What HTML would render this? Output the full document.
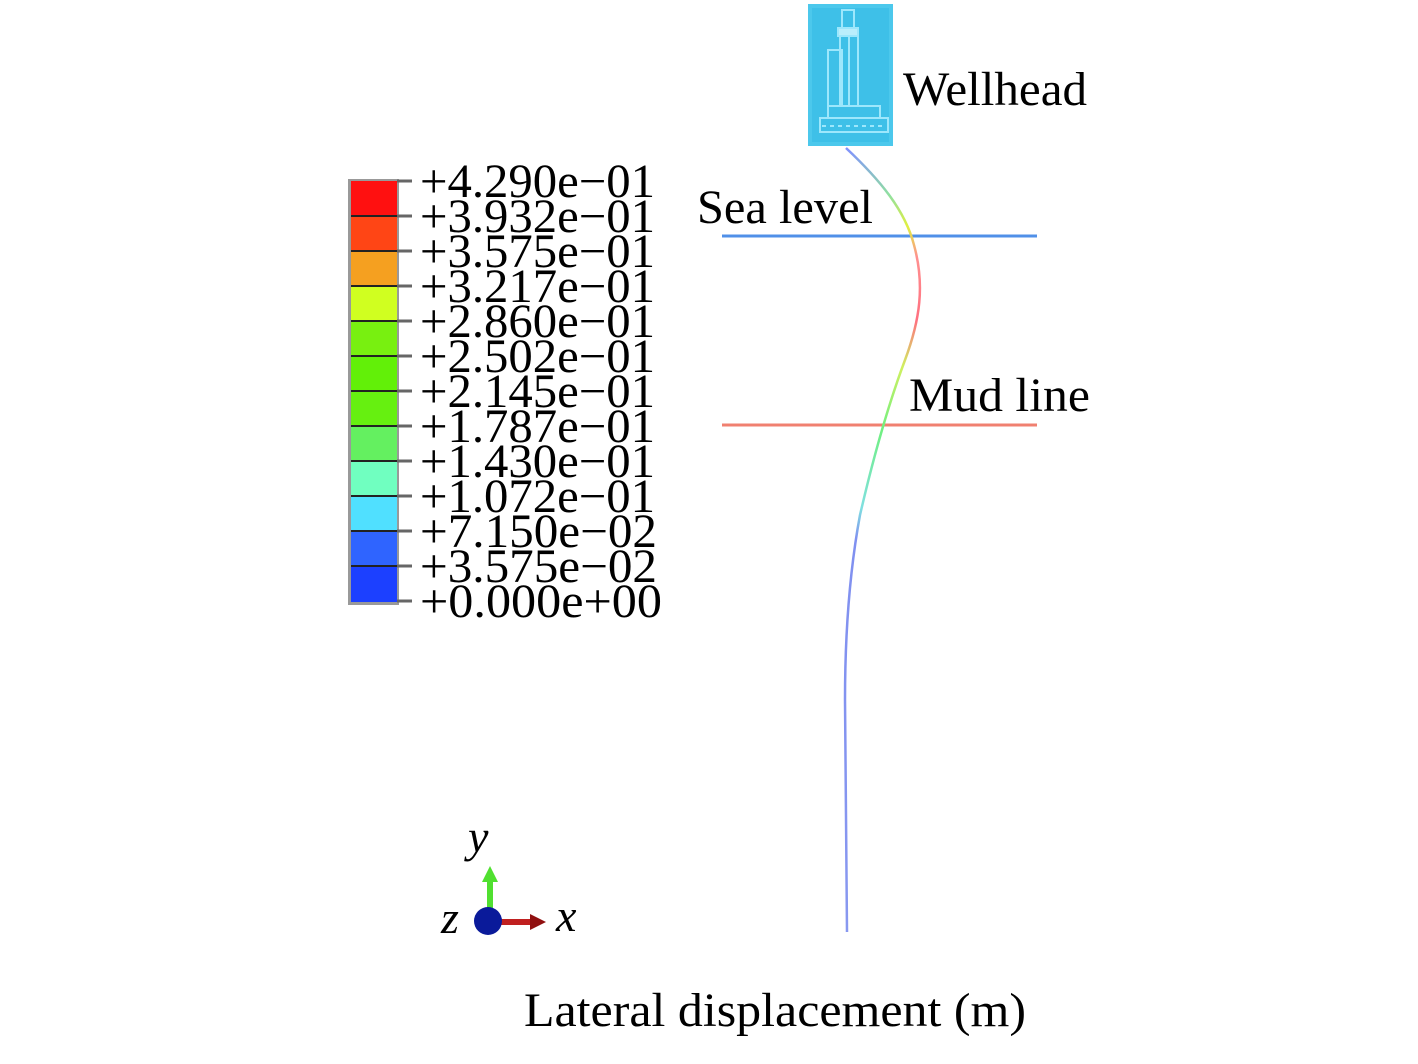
<!DOCTYPE html>
<html><head><meta charset="utf-8"><style>
html,body{margin:0;padding:0;background:#fff;}
svg{display:block;}
text{font-family:"Liberation Serif",serif;fill:#000;}
</style></head><body>
<svg width="1418" height="1064" viewBox="0 0 1418 1064" xmlns="http://www.w3.org/2000/svg">
<defs>
<linearGradient id="cg" x1="0" y1="148" x2="0" y2="930" gradientUnits="userSpaceOnUse">
<stop offset="0" stop-color="#8090ff"/>
<stop offset="0.06" stop-color="#90e0a0"/>
<stop offset="0.1" stop-color="#e0f040"/>
<stop offset="0.14" stop-color="#ff9090"/>
<stop offset="0.22" stop-color="#ff7080"/>
<stop offset="0.28" stop-color="#d0f060"/>
<stop offset="0.36" stop-color="#70f080"/>
<stop offset="0.46" stop-color="#80e0e0"/>
<stop offset="0.5" stop-color="#8090f0"/>
<stop offset="1" stop-color="#8898f0"/>
</linearGradient>
</defs>
<rect x="808" y="4" width="85" height="142" fill="#4cc8ec"/>
<rect x="812" y="8" width="77" height="134" fill="#3ec0e8"/>
<g stroke="#a8ecff" stroke-width="2" fill="none" opacity="0.9">
<rect x="842" y="10" width="12" height="18"/>
<rect x="838" y="28" width="20" height="8" fill="#c8f4ff"/>
<rect x="840" y="36" width="18" height="70"/>
<rect x="828" y="50" width="14" height="56"/>
<line x1="849" y1="36" x2="849" y2="106"/>
<rect x="828" y="106" width="52" height="12"/>
<rect x="820" y="118" width="68" height="14"/>
<line x1="822" y1="126" x2="886" y2="126" stroke-dasharray="4 4"/>
</g>
<text x="903" y="105" font-size="48" textLength="184" lengthAdjust="spacingAndGlyphs">Wellhead</text>
<line x1="722" y1="236" x2="1037" y2="236" stroke="#5090e8" stroke-width="3"/>
<line x1="722" y1="425" x2="1037" y2="425" stroke="#f08070" stroke-width="3"/>
<text x="697" y="223" font-size="48" textLength="176" lengthAdjust="spacingAndGlyphs">Sea level</text>
<text x="909" y="411" font-size="48" textLength="181" lengthAdjust="spacingAndGlyphs">Mud line</text>
<path d="M846,148 C880,180 905,210 914,245 C925,285 920,320 905,360 C890,400 875,450 860,515 C848,580 845,650 845,700 L847,932" fill="none" stroke="url(#cg)" stroke-width="2.5"/>
<rect x="348" y="179" width="51" height="426" fill="#999"/>
<rect x="351" y="181" width="46" height="35" fill="#ff1010"/>
<rect x="351" y="216" width="46" height="35" fill="#ff4515"/>
<rect x="351" y="251" width="46" height="35" fill="#f5a020"/>
<rect x="351" y="286" width="46" height="35" fill="#d0ff20"/>
<rect x="351" y="321" width="46" height="35" fill="#78f010"/>
<rect x="351" y="356" width="46" height="35" fill="#62f008"/>
<rect x="351" y="391" width="46" height="35" fill="#66f010"/>
<rect x="351" y="426" width="46" height="35" fill="#64f060"/>
<rect x="351" y="461" width="46" height="35" fill="#70ffc0"/>
<rect x="351" y="496" width="46" height="35" fill="#50e0ff"/>
<rect x="351" y="531" width="46" height="35" fill="#2f64ff"/>
<rect x="351" y="566" width="46" height="36" fill="#1c40ff"/>
<g stroke="#222" stroke-width="2">
<line x1="351" y1="216" x2="397" y2="216"/><line x1="351" y1="251" x2="397" y2="251"/>
<line x1="351" y1="286" x2="397" y2="286"/><line x1="351" y1="321" x2="397" y2="321"/>
<line x1="351" y1="356" x2="397" y2="356"/><line x1="351" y1="391" x2="397" y2="391"/>
<line x1="351" y1="426" x2="397" y2="426"/><line x1="351" y1="461" x2="397" y2="461"/>
<line x1="351" y1="496" x2="397" y2="496"/><line x1="351" y1="531" x2="397" y2="531"/>
<line x1="351" y1="566" x2="397" y2="566"/>
</g>
<g stroke="#666" stroke-width="3">
<line x1="397" y1="181" x2="412" y2="181"/><line x1="397" y1="216" x2="412" y2="216"/>
<line x1="397" y1="251" x2="412" y2="251"/><line x1="397" y1="286" x2="412" y2="286"/>
<line x1="397" y1="321" x2="412" y2="321"/><line x1="397" y1="356" x2="412" y2="356"/>
<line x1="397" y1="391" x2="412" y2="391"/><line x1="397" y1="426" x2="412" y2="426"/>
<line x1="397" y1="461" x2="412" y2="461"/><line x1="397" y1="496" x2="412" y2="496"/>
<line x1="397" y1="531" x2="412" y2="531"/><line x1="397" y1="566" x2="412" y2="566"/>
<line x1="397" y1="601" x2="412" y2="601"/>
</g>
<g font-size="48" lengthAdjust="spacingAndGlyphs">
<text x="420" y="197" textLength="235" lengthAdjust="spacingAndGlyphs">+4.290e−01</text>
<text x="420" y="232" textLength="235" lengthAdjust="spacingAndGlyphs">+3.932e−01</text>
<text x="420" y="267" textLength="235" lengthAdjust="spacingAndGlyphs">+3.575e−01</text>
<text x="420" y="302" textLength="235" lengthAdjust="spacingAndGlyphs">+3.217e−01</text>
<text x="420" y="337" textLength="235" lengthAdjust="spacingAndGlyphs">+2.860e−01</text>
<text x="420" y="372" textLength="235" lengthAdjust="spacingAndGlyphs">+2.502e−01</text>
<text x="420" y="407" textLength="235" lengthAdjust="spacingAndGlyphs">+2.145e−01</text>
<text x="420" y="442" textLength="235" lengthAdjust="spacingAndGlyphs">+1.787e−01</text>
<text x="420" y="477" textLength="235" lengthAdjust="spacingAndGlyphs">+1.430e−01</text>
<text x="420" y="512" textLength="235" lengthAdjust="spacingAndGlyphs">+1.072e−01</text>
<text x="420" y="547" textLength="237" lengthAdjust="spacingAndGlyphs">+7.150e−02</text>
<text x="420" y="582" textLength="237" lengthAdjust="spacingAndGlyphs">+3.575e−02</text>
<text x="420" y="617" textLength="242" lengthAdjust="spacingAndGlyphs">+0.000e+00</text>
</g>
<line x1="490" y1="908" x2="490" y2="880" stroke="#50e030" stroke-width="6"/>
<polygon points="482,882 498,882 490,866" fill="#50e030"/>
<line x1="500" y1="922" x2="532" y2="922" stroke="#c02020" stroke-width="6"/>
<polygon points="530,914 530,930 546,922" fill="#901010"/>
<circle cx="488" cy="921" r="14" fill="#0a1a9a"/>
<text x="468" y="852" font-size="46" font-style="italic">y</text>
<text x="441" y="933" font-size="46" font-style="italic">z</text>
<text x="556" y="931" font-size="46" font-style="italic">x</text>
<text x="524" y="1026" font-size="48" textLength="502" lengthAdjust="spacingAndGlyphs">Lateral displacement (m)</text>
</svg>
</body></html>
